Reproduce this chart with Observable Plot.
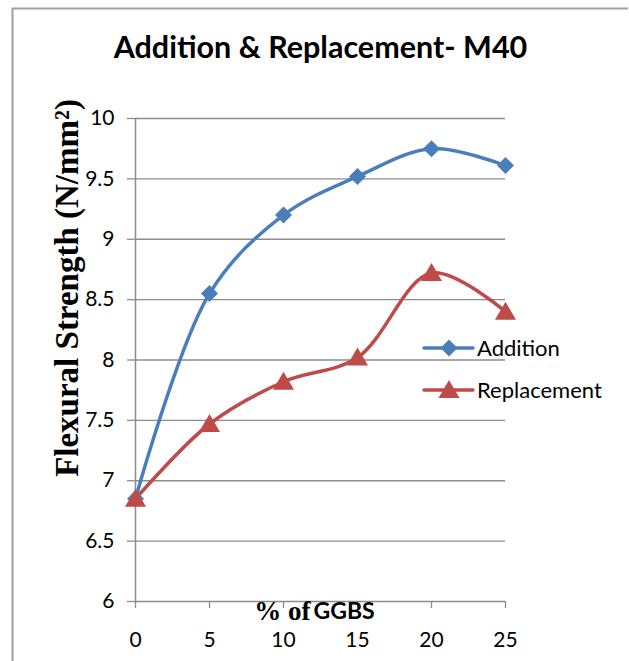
<!DOCTYPE html>
<html><head><meta charset="utf-8">
<script src="https://cdn.jsdelivr.net/npm/d3@7"></script>
<script src="https://cdn.jsdelivr.net/npm/@observablehq/plot@0.6"></script>
<style>body{margin:0;background:#fff}#chart{width:629px;height:661px}</style>
</head><body><div id="chart"></div>
<script>
const ggbs = [0, 5, 10, 15, 20, 25];
const addition = [6.85, 8.55, 9.2, 9.52, 9.75, 9.61];
const replacement = [6.85, 7.47, 7.82, 8.02, 8.72, 8.4];
const seriesNames = ["Addition", "Replacement"];
const seriesColors = ["#4A7EBB", "#BE4B48"];
const yTicks = [6, 6.5, 7, 7.5, 8, 8.5, 9, 9.5, 10];
const xTicks = [0, 5, 10, 15, 20, 25];
const titleText = "Addition & Replacement- M40";
const yLabel = "Flexural Strength (N/mm²)";

// marker shapes (Excel style)
const diamondSym = {draw(c) { const h = 8.5; c.moveTo(0, -h); c.lineTo(h, 0); c.lineTo(0, h); c.lineTo(-h, 0); c.closePath(); }};
const triangleSym = {draw(c) { const w = 10.5, t = 10, b = 8; c.moveTo(0, -t); c.lineTo(w, b); c.lineTo(-w, b); c.closePath(); }};
const seriesSymbols = [diamondSym, triangleSym];

const rows = [
  ...ggbs.map((g, i) => ({x: g, y: addition[i], s: seriesNames[0]})),
  ...ggbs.map((g, i) => ({x: g, y: replacement[i], s: seriesNames[1]}))
];
const grey = "#8c8c8c";
const sans = "Lato, 'Open Sans', sans-serif";
const serif = "'Liberation Serif', 'DejaVu Serif', serif";

const plot = Plot.plot({
  width: 629, height: 661,
  marginLeft: 135, marginRight: 124, marginTop: 118, marginBottom: 60,
  x: {domain: [0, 25]},
  y: {domain: [6, 10]},
  color: {domain: seriesNames, range: seriesColors},
  symbol: {domain: seriesNames, range: seriesSymbols},
  style: {fontFamily: sans, background: "#fff", overflow: "visible"},
  marks: [
    Plot.ruleY(yTicks.filter(d => d > 6), {stroke: grey, strokeWidth: 1.3}),
    Plot.axisY(yTicks, {tickSize: 8, tickPadding: 13, fontSize: 21, stroke: grey, strokeWidth: 1.3, fill: "#000", label: null, tickFormat: d => String(d)}),
    Plot.axisX(xTicks, {tickSize: 7, tickPadding: 24, fontSize: 21, stroke: grey, strokeWidth: 1.3, fill: "#000", label: null}),
    Plot.ruleX([0], {stroke: grey, strokeWidth: 1.5, y1: 6, y2: 10}),
    Plot.ruleY([6], {stroke: grey, strokeWidth: 1.5}),
    Plot.line(rows, {x: "x", y: "y", z: "s", stroke: "s", strokeWidth: 3.5, curve: "catmull-rom"}),
    Plot.dot(rows, {x: "x", y: "y", fill: "s", symbol: "s", stroke: "none"}),
    Plot.text([titleText], {frameAnchor: "top", lineAnchor: "middle", textAnchor: "middle", dy: -70, fontSize: 30.5, fontWeight: "bold", fill: "#000"}),
    Plot.text([yLabel], {frameAnchor: "left", lineAnchor: "middle", textAnchor: "middle", rotate: -90, dx: -68, dy: -72, fontSize: 33, fontWeight: "bold", fontFamily: serif, fill: "#000"}),
    Plot.text(["% of"], {frameAnchor: "bottom", lineAnchor: "middle", textAnchor: "end", dx: -10, dy: 10, fontSize: 27, fontWeight: "bold", fontFamily: serif, fill: "#000"}),
    Plot.text(["GGBS"], {frameAnchor: "bottom", lineAnchor: "middle", textAnchor: "start", dx: -7, dy: 10, fontSize: 23, fontWeight: "bold", fill: "#000"})
  ]
});
document.getElementById("chart").appendChild(plot);

// chart border and legend
const svg = d3.select(plot);
svg.append("path").attr("d", "M12.5,661V8.5H628").attr("fill", "none").attr("stroke", "#a0a0a0").attr("stroke-width", 2);
const legendY = [348, 390];
seriesNames.forEach((name, i) => {
  const g = svg.append("g").attr("transform", `translate(0,${legendY[i]})`);
  g.append("line").attr("x1", 424).attr("x2", 473).attr("stroke", seriesColors[i]).attr("stroke-width", 3.5).attr("stroke-linecap", "round");
  g.append("path").attr("d", d3.symbol(seriesSymbols[i])()).attr("transform", "translate(449,0)").attr("fill", seriesColors[i]);
  g.append("text").attr("x", 477).attr("dy", "0.35em").attr("text-anchor", "start").attr("font-size", 22).attr("font-family", sans).attr("fill", "#000").text(name);
});
</script>
</body></html>
